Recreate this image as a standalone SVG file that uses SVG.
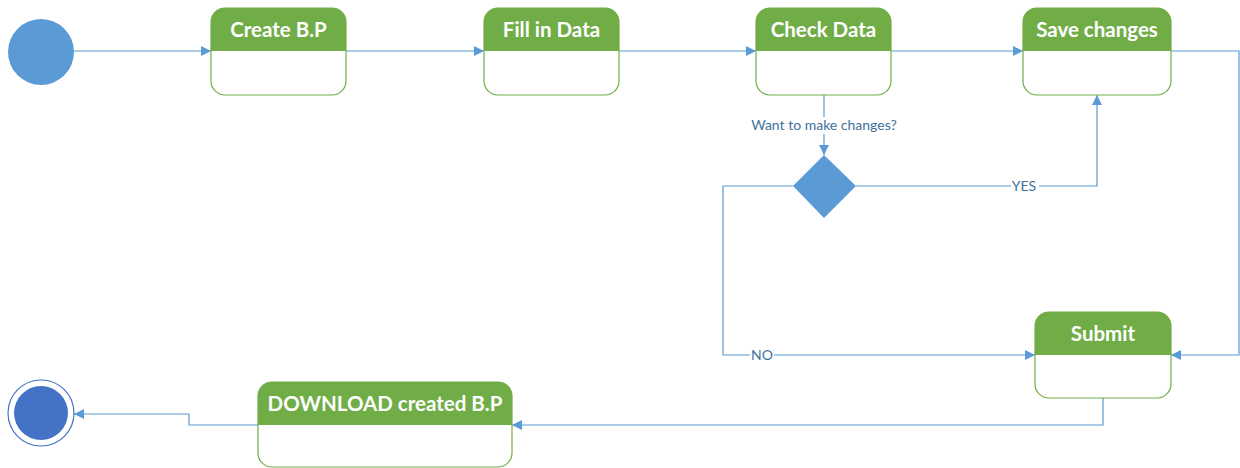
<svg xmlns="http://www.w3.org/2000/svg" width="1240" height="468" viewBox="0 0 1240 468">
  <style>
    .hdr { fill: #70AD47; }
    .body { fill: #FFFFFF; stroke: #70AD47; stroke-width: 1.2; }
    .title { font-family: Lato, "Noto Sans", sans-serif; font-weight: bold; font-size: 20.5px; fill: #FFFFFF; text-anchor: middle; }
    .edge { fill: none; stroke: #5B9BD5; stroke-width: 1.2; }
    .lbl { font-family: Lato, "Noto Sans", sans-serif; font-size: 14px; fill: #41719C; text-anchor: middle; }
  </style>
  <defs>
    <marker id="arr" viewBox="0 0 10 10" refX="10" refY="5" markerWidth="10" markerHeight="10" markerUnits="userSpaceOnUse" orient="auto">
      <path d="M0,0 L10,5 L0,10 Z" fill="#5B9BD5"/>
    </marker>
  </defs>
  <rect width="1240" height="468" fill="#FFFFFF"/>

  <!-- connectors -->
  <g id="connectors">
    <path class="edge" d="M74,51 H211" marker-end="url(#arr)"/>
    <path class="edge" d="M346,51 H484" marker-end="url(#arr)"/>
    <path class="edge" d="M619,51 H756" marker-end="url(#arr)"/>
    <path class="edge" d="M891,51 H1023" marker-end="url(#arr)"/>
    <path class="edge" d="M824,95 V155" marker-end="url(#arr)"/>
    <path class="edge" d="M856,186 H1097 V95" marker-end="url(#arr)"/>
    <path class="edge" d="M793,186 H723 V355 H1035" marker-end="url(#arr)"/>
    <path class="edge" d="M1171,51 H1239 V355 H1171" marker-end="url(#arr)"/>
    <path class="edge" d="M1103,398 V425 H512" marker-end="url(#arr)"/>
    <path class="edge" d="M258,425 H189 V414 H74" marker-end="url(#arr)"/>
    <rect x="746" y="117" width="156" height="17" fill="#FFFFFF"/>
    <text class="lbl" x="824" y="130">Want to make changes?</text>
    <rect x="1011" y="179" width="28" height="15" fill="#FFFFFF"/>
    <text class="lbl" x="1024" y="191">YES</text>
    <rect x="750" y="347" width="24" height="15" fill="#FFFFFF"/>
    <text class="lbl" x="762" y="360">NO</text>
  </g>

  <!-- start -->
  <g id="start">
    <circle cx="41" cy="52" r="33" fill="#5B9BD5"/>
  </g>

  <!-- end -->
  <g id="end">
    <circle cx="41" cy="413" r="33" fill="#FFFFFF" stroke="#4472C4" stroke-width="1.2"/>
    <circle cx="41" cy="413" r="27" fill="#4472C4"/>
  </g>

  <g id="create">
    <rect class="body" x="211" y="8" width="135" height="87" rx="14"/>
    <path class="hdr" d="M211,51 V22 A14,14 0 0 1 225,8 H332 A14,14 0 0 1 346,22 V51 Z"/>
    <text class="title" x="278.5" y="37">Create B.P</text>
  </g>

  <g id="fill">
    <rect class="body" x="484" y="8" width="135" height="87" rx="14"/>
    <path class="hdr" d="M484,51 V22 A14,14 0 0 1 498,8 H605 A14,14 0 0 1 619,22 V51 Z"/>
    <text class="title" x="551.5" y="37">Fill in Data</text>
  </g>

  <g id="check">
    <rect class="body" x="756" y="8" width="135" height="87" rx="14"/>
    <path class="hdr" d="M756,51 V22 A14,14 0 0 1 770,8 H877 A14,14 0 0 1 891,22 V51 Z"/>
    <text class="title" x="823.5" y="37">Check Data</text>
  </g>

  <g id="save">
    <rect class="body" x="1023" y="8" width="148" height="87" rx="14"/>
    <path class="hdr" d="M1023,51 V22 A14,14 0 0 1 1037,8 H1157 A14,14 0 0 1 1171,22 V51 Z"/>
    <text class="title" x="1097" y="37">Save changes</text>
  </g>

  <g id="decision">
    <path d="M824,155 L856,186 L824,218 L793,186 Z" fill="#5B9BD5"/>
  </g>

  <g id="submit">
    <rect class="body" x="1035" y="312" width="136" height="86" rx="14"/>
    <path class="hdr" d="M1035,355 V326 A14,14 0 0 1 1049,312 H1157 A14,14 0 0 1 1171,326 V355 Z"/>
    <text class="title" x="1103" y="341">Submit</text>
  </g>

  <g id="download">
    <rect class="body" x="258" y="382" width="254" height="85" rx="14"/>
    <path class="hdr" d="M258,425 V396 A14,14 0 0 1 272,382 H498 A14,14 0 0 1 512,396 V425 Z"/>
    <text class="title" x="385" y="411">DOWNLOAD created B.P</text>
  </g>
</svg>
